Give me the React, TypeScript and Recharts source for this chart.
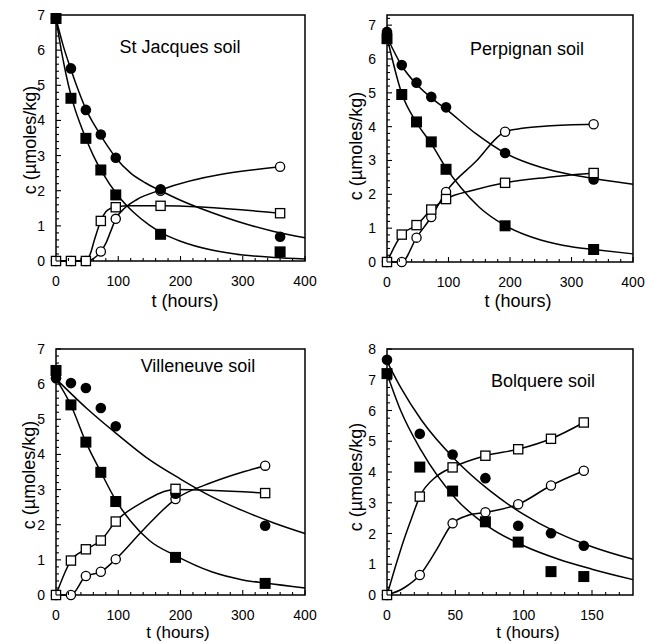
import { ComposedChart, Line, Scatter, XAxis, YAxis, ReferenceArea } from 'recharts'

const FONT = '"Liberation Sans", Arial, Helvetica, sans-serif'

// ---- St Jacques soil ----
const sjTimes = [0, 24, 48, 72, 96, 168, 360]
const sjFilledSq = [6.9, 4.63, 3.49, 2.59, 1.88, 0.76, 0.26]
const sjFilledCi = [6.9, 5.48, 4.3, 3.6, 2.94, 2.04, 0.69]
const sjOpenSq = [0, 0, 0, 1.14, 1.53, 1.57, 1.36]
const sjOpenCi = [0, 0, 0, 0.27, 1.2, 2.0, 2.68]
const sjFitSqT = [0, 10, 20, 30, 40, 50, 60, 75, 100, 125, 150, 175, 200, 250, 300, 350, 400]
const sjFitSq = [6.9, 5.85, 5.0, 4.35, 3.85, 3.4, 3.0, 2.5, 1.85, 1.38, 1.02, 0.75, 0.56, 0.31, 0.17, 0.1, 0.06]
const sjFitCiT = [0, 12, 24, 36, 48, 60, 72, 84, 96, 120, 144, 168, 200, 250, 300, 350, 400]
const sjFitCi = [6.9, 6.1, 5.45, 4.85, 4.32, 3.92, 3.57, 3.24, 2.94, 2.5, 2.22, 2.0, 1.73, 1.38, 1.08, 0.84, 0.66]
const sjFitOsT = [0, 24, 48, 55, 62, 72, 80, 88, 96, 120, 168, 360]
const sjFitOs = [0, 0, 0, 0.2, 0.62, 1.14, 1.4, 1.5, 1.54, 1.57, 1.57, 1.36]
const sjFitOcT = [0, 24, 48, 56, 64, 72, 80, 88, 96, 110, 130, 168, 360]
const sjFitOc = [0, 0, 0, 0.03, 0.12, 0.27, 0.5, 0.85, 1.2, 1.5, 1.75, 2.02, 2.68]

// ---- Perpignan soil ----
const pTimes = [0, 24, 48, 72, 96, 192, 336]
const pFilledSq = [6.6, 4.95, 4.14, 3.55, 2.74, 1.07, 0.37]
const pFilledCi = [6.8, 5.82, 5.3, 4.88, 4.57, 3.22, 2.44]
const pOpenSq = [0, 0.81, 1.09, 1.55, 1.86, 2.34, 2.63]
const pOpenCi = [0, 0, 0.72, 1.33, 2.07, 3.85, 4.07]
const pFitSqT = [0, 24, 48, 72, 96, 120, 150, 192, 250, 300, 336, 400]
const pFitSq = [6.65, 4.98, 4.12, 3.5, 2.78, 2.2, 1.62, 1.08, 0.65, 0.45, 0.37, 0.24]
const pFitCiT = [0, 24, 48, 72, 96, 144, 192, 250, 300, 336, 400]
const pFitCi = [6.65, 5.8, 5.25, 4.85, 4.52, 3.8, 3.22, 2.8, 2.58, 2.47, 2.3]
const pFitOsT = [0, 24, 48, 72, 96, 140, 192, 260, 336]
const pFitOs = [0, 0.81, 1.09, 1.55, 1.86, 2.12, 2.34, 2.5, 2.63]
const pFitOcT = [0, 24, 48, 72, 96, 144, 192, 220, 260, 336]
const pFitOc = [0, 0, 0.72, 1.33, 2.07, 2.96, 3.85, 3.95, 4.02, 4.07]

// ---- Villeneuve soil ----
const vTimes = [0, 24, 48, 72, 96, 192, 336]
const vFilledSq = [6.39, 5.41, 4.35, 3.49, 2.66, 1.07, 0.33]
const vFilledCi = [6.17, 6.03, 5.89, 5.32, 4.8, 2.88, 1.97]
const vOpenSq = [0, 0.98, 1.3, 1.55, 2.09, 3.02, 2.9]
const vOpenCi = [0, 0, 0.54, 0.66, 1.02, 2.73, 3.68]
const vFitSqT = [0, 24, 48, 72, 96, 120, 150, 192, 250, 300, 336, 400]
const vFitSq = [6.15, 5.4, 4.35, 3.5, 2.7, 2.1, 1.55, 1.12, 0.66, 0.43, 0.34, 0.2]
const vFitCiT = [0, 50, 100, 150, 200, 250, 300, 350, 400]
const vFitCi = [6.15, 5.3, 4.55, 3.85, 3.3, 2.8, 2.4, 2.05, 1.75]
const vFitOsT = [0, 24, 48, 72, 96, 140, 192, 336]
const vFitOs = [0, 0.98, 1.3, 1.55, 2.09, 2.65, 3.0, 2.9]
const vFitOcT = [0, 24, 48, 72, 96, 140, 192, 250, 300, 336]
const vFitOc = [0, 0, 0.54, 0.66, 1.02, 1.85, 2.73, 3.2, 3.5, 3.68]

// ---- Bolquere soil ----
const bTimes = [0, 24, 48, 72, 96, 120, 144]
const bFilledSq = [7.2, 4.16, 3.38, 2.38, 1.72, 0.76, 0.6]
const bFilledCi = [7.65, 5.24, 4.57, 3.8, 2.25, 2.01, 1.6]
const bOpenSq = [0, 3.2, 4.15, 4.53, 4.74, 5.08, 5.61]
const bOpenCi = [0, 0.65, 2.33, 2.69, 2.95, 3.56, 4.04]
const bFitSqT = [0, 10, 25, 50, 75, 100, 125, 150, 180]
const bFitSq = [7.2, 6.0, 4.7, 3.15, 2.2, 1.6, 1.17, 0.84, 0.5]
const bFitCiT = [0, 10, 25, 50, 75, 100, 125, 150, 180]
const bFitCi = [7.6, 6.75, 5.7, 4.4, 3.4, 2.62, 2.02, 1.57, 1.16]
const bFitOsT = [0, 6, 12, 18, 24, 36, 48, 72, 96, 120, 144]
const bFitOs = [0, 0.9, 1.75, 2.5, 3.2, 3.85, 4.15, 4.53, 4.74, 5.08, 5.61]
const bFitOcT = [0, 12, 24, 36, 48, 60, 72, 96, 120, 144]
const bFitOc = [0, 0.22, 0.65, 1.45, 2.33, 2.6, 2.69, 2.95, 3.56, 4.04]

// ---- axis ticks (major labelled, minor unlabelled) ----
const xTicks400 = [0, 100, 200, 300, 400]
const xMinor400 = [20, 40, 60, 80, 120, 140, 160, 180, 220, 240, 260, 280, 320, 340, 360, 380]
const xTicks180 = [0, 50, 100, 150]
const xMinor180 = [10, 20, 30, 40, 60, 70, 80, 90, 110, 120, 130, 140, 160, 170]
const yTicks7 = [0, 1, 2, 3, 4, 5, 6, 7]
const yMinor7 = [
  0.2, 0.4, 0.6, 0.8, 1.2, 1.4, 1.6, 1.8, 2.2, 2.4, 2.6, 2.8, 3.2, 3.4, 3.6, 3.8,
  4.2, 4.4, 4.6, 4.8, 5.2, 5.4, 5.6, 5.8, 6.2, 6.4, 6.6, 6.8,
]
const yMinor73 = [...yMinor7, 7.2]
const yTicks8 = [0, 1, 2, 3, 4, 5, 6, 7, 8]
const yMinor8 = [
  0.25, 0.5, 0.75, 1.25, 1.5, 1.75, 2.25, 2.5, 2.75, 3.25, 3.5, 3.75,
  4.25, 4.5, 4.75, 5.25, 5.5, 5.75, 6.25, 6.5, 6.75, 7.25, 7.5, 7.75,
]

type Pt = { t: number; c: number }
const zip = (ts: number[], cs: number[]): Pt[] => ts.map((t, i) => ({ t, c: cs[i] }))

function FilledCircle(p: any) {
  if (p.cx == null) return null
  return <circle cx={p.cx} cy={p.cy} r={5.3} fill="#000" />
}
function OpenCircle(p: any) {
  if (p.cx == null) return null
  return <circle cx={p.cx} cy={p.cy} r={4.6} fill="#fff" stroke="#000" strokeWidth={1.3} />
}
function FilledSquare(p: any) {
  if (p.cx == null) return null
  return <rect x={p.cx - 5.5} y={p.cy - 5.5} width={11} height={11} fill="#000" />
}
function OpenSquare(p: any) {
  if (p.cx == null) return null
  return <rect x={p.cx - 4.6} y={p.cy - 4.6} width={9.2} height={9.2} fill="#fff" stroke="#000" strokeWidth={1.3} />
}

// inward tick marks, drawn by hand; y/x arrive at the axis line since tickSize and tickMargin are 0
function XTick(p: any) {
  const major = p.majors.includes(p.payload.value)
  return (
    <g>
      <line x1={p.x} x2={p.x} y1={p.y} y2={p.y - (major ? 5 : 3)} stroke="#000" strokeWidth={1.1} />
      {major && (
        <text x={p.x} y={p.y + 25} textAnchor="middle" fontSize={14} fontFamily={FONT} fill="#000">
          {p.payload.value}
        </text>
      )}
    </g>
  )
}
function YTick(p: any) {
  const major = p.majors.includes(p.payload.value)
  return (
    <g>
      <line x1={p.x} x2={p.x + (major ? 5 : 3)} y1={p.y} y2={p.y} stroke="#000" strokeWidth={1.1} />
      {major && (
        <text x={p.x - 11} y={p.y + 5} textAnchor="end" fontSize={14} fontFamily={FONT} fill="#000">
          {p.payload.value}
        </text>
      )}
    </g>
  )
}

interface PanelProps {
  width: number
  height: number
  margin: { top: number; right: number; bottom: number; left: number }
  xDomain: [number, number]
  xTicks: number[]
  xMinor: number[]
  yDomain: [number, number]
  yTicks: number[]
  yMinor: number[]
  times: number[]
  filledSq: number[]
  filledCi: number[]
  openSq: number[]
  openCi: number[]
  fits: [number[], number[]][]
}

function Panel(props: PanelProps) {
  const { xDomain, yDomain, xTicks, yTicks } = props
  return (
    <ComposedChart width={props.width} height={props.height} margin={props.margin}>
      <XAxis type="number" dataKey="t" domain={xDomain} ticks={[...xTicks, ...props.xMinor]} interval={0}
        height={30} tickSize={0} tickMargin={0} axisLine={false} tickLine={false}
        tick={(p: any) => <XTick {...p} majors={xTicks} />} />
      <YAxis type="number" dataKey="c" domain={yDomain} ticks={[...yTicks, ...props.yMinor]} interval={0}
        width={40} tickSize={0} tickMargin={0} axisLine={false} tickLine={false}
        tick={(p: any) => <YTick {...p} majors={yTicks} />} />
      <ReferenceArea x1={xDomain[0]} x2={xDomain[1]} y1={yDomain[0]} y2={yDomain[1]}
        fill="none" fillOpacity={0} stroke="#000" strokeWidth={1.5} strokeOpacity={1} />
      {props.fits.map(([ts, cs], i) => (
        <Line key={i} data={zip(ts, cs)} dataKey="c" type="monotone" stroke="#000" strokeWidth={1.5}
          dot={false} activeDot={false} isAnimationActive={false} />
      ))}
      <Scatter data={zip(props.times, props.openCi)} shape={OpenCircle} isAnimationActive={false} />
      <Scatter data={zip(props.times, props.filledSq)} shape={FilledSquare} isAnimationActive={false} />
      <Scatter data={zip(props.times, props.filledCi)} shape={FilledCircle} isAnimationActive={false} />
      <Scatter data={zip(props.times, props.openSq)} shape={OpenSquare} isAnimationActive={false} />
    </ComposedChart>
  )
}

const yLabel = 'c (µmoles/kg)'
const xLabel = 't (hours)'

export default function App() {
  return (
    <div style={{ position: 'absolute', left: 0, top: 0, width: 645, height: 642, background: '#fff' }}>
      <div style={{ position: 'absolute', left: 0, top: 0 }}>
        <Panel width={320} height={320} margin={{ top: 15, right: 15, bottom: 29, left: 16 }}
          xDomain={[0, 400]} xTicks={xTicks400} xMinor={xMinor400}
          yDomain={[0, 7]} yTicks={yTicks7} yMinor={yMinor7}
          times={sjTimes} filledSq={sjFilledSq} filledCi={sjFilledCi} openSq={sjOpenSq} openCi={sjOpenCi}
          fits={[[sjFitSqT, sjFitSq], [sjFitCiT, sjFitCi], [sjFitOsT, sjFitOs], [sjFitOcT, sjFitOc]]} />
      </div>
      <div style={{ position: 'absolute', left: 320, top: 0 }}>
        <Panel width={325} height={320} margin={{ top: 15, right: 12, bottom: 28, left: 27 }}
          xDomain={[0, 400]} xTicks={xTicks400} xMinor={xMinor400}
          yDomain={[0, 7.3]} yTicks={yTicks7} yMinor={yMinor73}
          times={pTimes} filledSq={pFilledSq} filledCi={pFilledCi} openSq={pOpenSq} openCi={pOpenCi}
          fits={[[pFitSqT, pFitSq], [pFitCiT, pFitCi], [pFitOsT, pFitOs], [pFitOcT, pFitOc]]} />
      </div>
      <div style={{ position: 'absolute', left: 0, top: 320 }}>
        <Panel width={320} height={322} margin={{ top: 29, right: 15, bottom: 17, left: 16 }}
          xDomain={[0, 400]} xTicks={xTicks400} xMinor={xMinor400}
          yDomain={[0, 7]} yTicks={yTicks7} yMinor={yMinor7}
          times={vTimes} filledSq={vFilledSq} filledCi={vFilledCi} openSq={vOpenSq} openCi={vOpenCi}
          fits={[[vFitSqT, vFitSq], [vFitCiT, vFitCi], [vFitOsT, vFitOs], [vFitOcT, vFitOc]]} />
      </div>
      <div style={{ position: 'absolute', left: 320, top: 320 }}>
        <Panel width={325} height={322} margin={{ top: 29, right: 12, bottom: 17, left: 27 }}
          xDomain={[0, 180]} xTicks={xTicks180} xMinor={xMinor180}
          yDomain={[0, 8]} yTicks={yTicks8} yMinor={yMinor8}
          times={bTimes} filledSq={bFilledSq} filledCi={bFilledCi} openSq={bOpenSq} openCi={bOpenCi}
          fits={[[bFitSqT, bFitSq], [bFitCiT, bFitCi], [bFitOsT, bFitOs], [bFitOcT, bFitOc]]} />
      </div>
      <svg width={645} height={642} style={{ position: 'absolute', left: 0, top: 0, pointerEvents: 'none' }}
        fontFamily={FONT} fill="#000">
        <text x={180} y={53} fontSize={18} textAnchor="middle">St Jacques soil</text>
        <text x={527} y={55} fontSize={18} textAnchor="middle">Perpignan soil</text>
        <text x={198} y={372} fontSize={18} textAnchor="middle">Villeneuve soil</text>
        <text x={543} y={387} fontSize={18} textAnchor="middle">Bolquere soil</text>
        <text x={185} y={307} fontSize={18} textAnchor="middle">{xLabel}</text>
        <text x={518} y={307} fontSize={18} textAnchor="middle">{xLabel}</text>
        <text x={178} y={638} fontSize={17} textAnchor="middle">{xLabel}</text>
        <text x={528} y={638} fontSize={17} textAnchor="middle">{xLabel}</text>
        <text transform="translate(36,140) rotate(-90)" fontSize={18} textAnchor="middle">{yLabel}</text>
        <text transform="translate(362,146) rotate(-90)" fontSize={18} textAnchor="middle">{yLabel}</text>
        <text transform="translate(35,475) rotate(-90)" fontSize={18} textAnchor="middle">{yLabel}</text>
        <text transform="translate(362,477) rotate(-90)" fontSize={18} textAnchor="middle">{yLabel}</text>
      </svg>
    </div>
  )
}
